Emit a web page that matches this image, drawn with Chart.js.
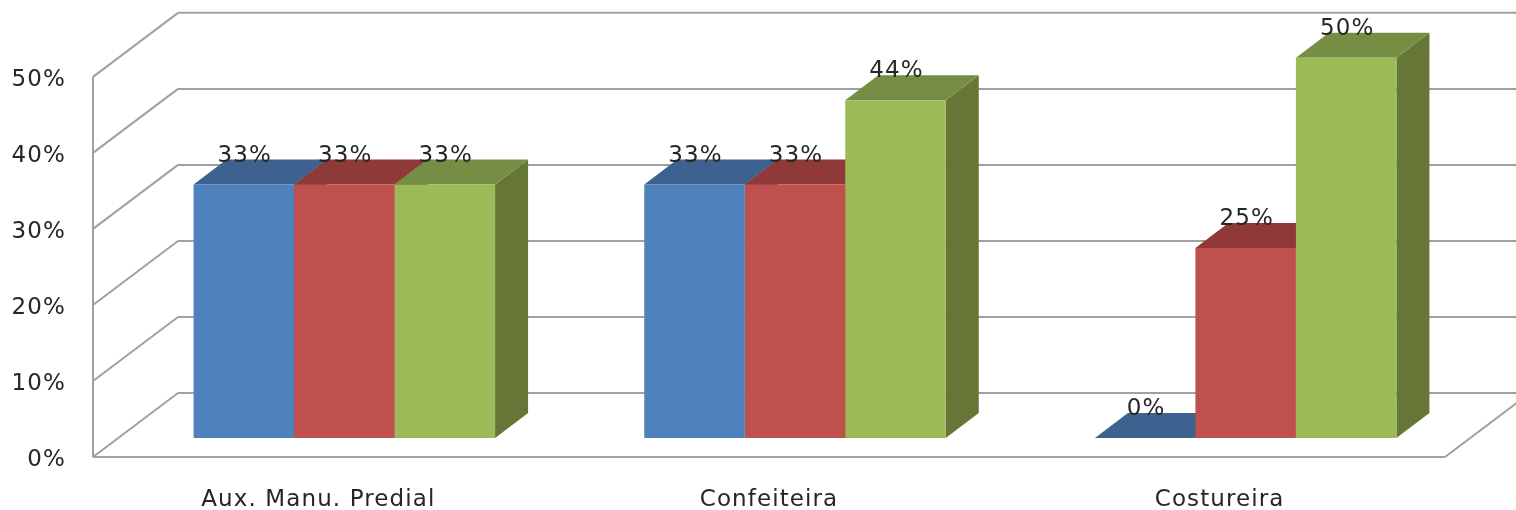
<!DOCTYPE html>
<html>
<head>
<meta charset="utf-8">
<title>Grafico</title>
<script src="https://cdn.jsdelivr.net/npm/chart.js@4"></script>
<style>
    html, body { margin: 0; padding: 0; background: #fff; overflow: hidden; }
    canvas { display: block; filter: blur(0.5px); }
</style>
</head>
<body>
<canvas id="grafico" width="1516" height="510"></canvas>
<script>
// Dados
const categorias = ['Aux. Manu. Predial', 'Confeiteira', 'Costureira'];
const serieAzul = [33.33, 33.33, 0];
const serieVermelha = [33.33, 33.33, 25];
const serieVerde = [33.33, 44.44, 50];

// Cores de cada serie: frente, topo, lateral
const coresFrente = ['#4f81bd', '#c0504d', '#9bbb59'];
const coresTopo = ['#3d628f', '#8f3a38', '#768e44'];
const coresLado = ['#345379', '#7a3230', '#657636'];

// Profundidade do efeito 3D em pixels
const PAREDE = { x: 85, y: -64 };   // fundo do grafico
const RECUO = { x: 26, y: -19 };    // onde as barras ficam no piso
const BARRA = { x: 33, y: -25 };    // profundidade da barra

const COR_GRADE = '#a0a0a0';
const COR_TEXTO = '#262626';
const FONTE = { family: '"DejaVu Sans"', size: 23 };

function poligono(ctx, pontos, cor) {
    ctx.fillStyle = cor;
    ctx.beginPath();
    pontos.forEach(function (p, i) {
        if (i === 0) ctx.moveTo(p[0], p[1]);
        else ctx.lineTo(p[0], p[1]);
    });
    ctx.closePath();
    ctx.fill();
}

function linha(ctx, x1, y1, x2, y2) {
    ctx.beginPath();
    ctx.moveTo(x1, y1);
    ctx.lineTo(x2, y2);
    ctx.stroke();
}

// Paredes e piso, e depois topo e lateral das barras
const cenario = {
    id: 'cenario',
    // O contexto perde o letterSpacing quando o canvas muda de tamanho
    beforeDraw(chart) {
        chart.ctx.letterSpacing = '1.1px';
    },
    beforeDatasetsDraw(chart) {
        const ctx = chart.ctx;
        const esq = chart.scales.x.left;
        const dir = chart.scales.x.right;
        const y = chart.scales.y;
        ctx.save();
        ctx.strokeStyle = COR_GRADE;
        ctx.lineWidth = 2;
        y.ticks.forEach(function (t) {
            const py = y.getPixelForValue(t.value);
            linha(ctx, esq, py, esq + PAREDE.x, py + PAREDE.y);
            linha(ctx, esq + PAREDE.x, py + PAREDE.y, dir + PAREDE.x, py + PAREDE.y);
        });
        const zero = y.getPixelForValue(0);
        linha(ctx, esq, y.getPixelForValue(50), esq, zero);
        linha(ctx, esq, zero, dir, zero);
        linha(ctx, dir, zero, dir + PAREDE.x, zero + PAREDE.y);

        ctx.translate(RECUO.x, RECUO.y);
        chart.data.datasets.forEach(function (ds, i) {
            chart.getDatasetMeta(i).data.forEach(function (bar) {
                const x0 = bar.x - bar.width / 2;
                const x1 = bar.x + bar.width / 2;
                poligono(ctx, [[x1, bar.y], [x1 + BARRA.x, bar.y + BARRA.y], [x1 + BARRA.x, bar.base + BARRA.y], [x1, bar.base]], coresLado[i]);
                poligono(ctx, [[x0, bar.y], [x0 + BARRA.x, bar.y + BARRA.y], [x1 + BARRA.x, bar.y + BARRA.y], [x1, bar.y]], coresTopo[i]);
            });
        });
        ctx.restore();
    },
    // A frente da barra e desenhada pelo proprio Chart.js, so deslocada para o piso
    beforeDatasetDraw(chart) {
        chart.ctx.save();
        chart.ctx.translate(RECUO.x, RECUO.y);
    },
    afterDatasetDraw(chart) {
        chart.ctx.restore();
    },
    afterDatasetsDraw(chart) {
        const ctx = chart.ctx;
        ctx.save();
        ctx.fillStyle = COR_TEXTO;
        ctx.font = FONTE.size + 'px ' + FONTE.family;
        ctx.textAlign = 'center';
        ctx.textBaseline = 'middle';
        chart.data.datasets.forEach(function (ds, i) {
            chart.getDatasetMeta(i).data.forEach(function (bar, j) {
                ctx.fillText(Math.round(ds.data[j]) + '%', bar.x + RECUO.x + 1, bar.y + RECUO.y - 29);
            });
        });
        ctx.restore();
    }
};

new Chart(document.getElementById('grafico'), {
    type: 'bar',
    data: {
        labels: categorias,
        datasets: [
            { label: 'Serie 1', data: serieAzul, backgroundColor: coresFrente[0], clip: false },
            { label: 'Serie 2', data: serieVermelha, backgroundColor: coresFrente[1], clip: false },
            { label: 'Serie 3', data: serieVerde, backgroundColor: coresFrente[2], clip: false }
        ]
    },
    options: {
        responsive: false,
        animation: false,
        devicePixelRatio: 1,
        categoryPercentage: 0.669,
        barPercentage: 1,
        layout: { padding: { top: 13, right: 71, left: 0, bottom: 0 } },
        plugins: {
            legend: { display: false },
            tooltip: { enabled: false }
        },
        scales: {
            x: {
                grid: { display: false },
                border: { display: false },
                ticks: { color: COR_TEXTO, font: FONTE, padding: 21, maxRotation: 0 },
                afterFit(scale) { scale.height = 53; }
            },
            y: {
                min: 0,
                max: 58.4,
                grid: { display: false },
                border: { display: false },
                ticks: {
                    stepSize: 10,
                    includeBounds: false,
                    color: COR_TEXTO,
                    font: FONTE,
                    padding: 19,
                    labelOffset: 3,
                    callback: function (v) { return v + '%'; }
                },
                afterFit(scale) {
                    scale.width = 93;
                    scale.paddingTop = 0;
                    scale.paddingBottom = 0;
                }
            }
        }
    },
    plugins: [cenario]
});
</script>
</body>
</html>
